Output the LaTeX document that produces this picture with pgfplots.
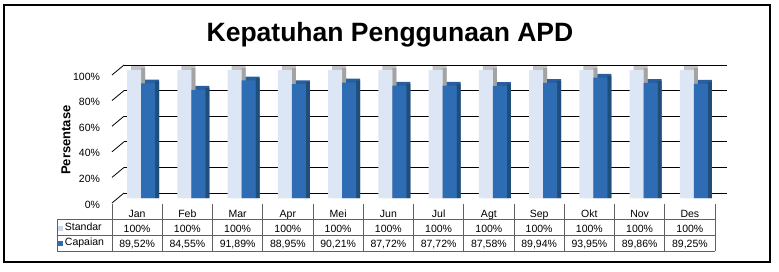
\documentclass[border=0pt]{standalone}
\usepackage{pgfplots}
\pgfplotsset{compat=1.18}
\usepackage{pgfplotstable}
\usepackage{fontspec}
\setmainfont{Liberation Sans}
\definecolor{stdfront}{HTML}{DCE6F4}
\definecolor{stdkey}{HTML}{CCD8EA}
\definecolor{stdtop}{HTML}{C4C4C4}
\definecolor{stdside}{HTML}{A3A3A3}
\definecolor{capfront}{HTML}{2E6DB4}
\definecolor{captop}{HTML}{2A5F9F}
\definecolor{capside}{HTML}{1F4E7A}
\definecolor{tableline}{HTML}{606060}

\pgfplotstableread{
x std cap
0 100 89.52
1 100 84.55
2 100 91.89
3 100 88.95
4 100 90.21
5 100 87.72
6 100 87.72
7 100 87.58
8 100 89.94
9 100 93.95
10 100 89.86
11 100 89.25
}\datatable

\begin{document}
\begin{tikzpicture}
\path (0pt,0pt) rectangle (779pt,271pt);
\draw[line width=1.2pt] (4pt,9pt) rectangle (770pt,266pt);
\begin{axis}[
  at={(112pt,73pt)}, anchor=south west,
  scale only axis, width=603pt, height=128pt,
  xmin=-0.5, xmax=11.5, ymin=0, ymax=100,
  clip=false,
  ybar, bar width=14pt,
  axis line style={draw=none},
  major tick style={draw=none},
  /pgf/number format/assume math mode=true,
  tick label style={font=\fontsize{10.5}{12}\selectfont},
  ytick={0,20,40,60,80,100},
  yticklabels={0\%,20\%,40\%,60\%,80\%,100\%},
  yticklabel style={anchor=east, xshift=-8.5pt, yshift=-6.5pt},
  ymajorgrids,
  major grid style={black, line width=0.8pt, xshift=12pt, yshift=5pt},
  xtick={0,1,2,3,4,5,6,7,8,9,10,11},
  xticklabels={
    {\strut Jan\\100\%\\89,52\%},
    {\strut Feb\\100\%\\84,55\%},
    {\strut Mar\\100\%\\91,89\%},
    {\strut Apr\\100\%\\88,95\%},
    {\strut Mei\\100\%\\90,21\%},
    {\strut Jun\\100\%\\87,72\%},
    {\strut Jul\\100\%\\87,72\%},
    {\strut Agt\\100\%\\87,58\%},
    {\strut Sep\\100\%\\89,94\%},
    {\strut Okt\\100\%\\93,95\%},
    {\strut Nov\\100\%\\89,86\%},
    {\strut Des\\100\%\\89,25\%}},
  xticklabel style={anchor=north, align=center, yshift=-1.3pt,
    font=\fontsize{10.5}{15}\selectfont},
  title={Kepatuhan Penggunaan APD},
  title style={at={(axis description cs:0.461,1.23)}, anchor=center,
    font=\bfseries\fontsize{26.5}{30}\selectfont},
  ylabel={Persentase},
  ylabel style={at={(axis description cs:-0.0763,0.453)}, anchor=center,
    font=\bfseries\fontsize{13}{15}\selectfont},
]
% Standar series (3D look: top, side, front)
\addplot[fill=stdtop, draw=none, bar shift=1pt] table[x=x, y expr=\thisrow{std}+3] {\datatable};
\addplot[fill=stdside, draw=none, bar shift=6pt, bar width=4pt] table[x=x, y expr=\thisrow{std}+1.5] {\datatable};
\addplot[fill=stdfront, draw=none, bar shift=-3pt] table[x=x, y=std] {\datatable};
% Capaian series
\addplot[fill=captop, draw=none, bar shift=15pt] table[x=x, y expr=\thisrow{cap}+3] {\datatable};
\addplot[fill=capside, draw=none, bar shift=20pt, bar width=4pt] table[x=x, y expr=\thisrow{cap}+1.5] {\datatable};
\addplot[fill=capfront, draw=none, bar shift=11pt] table[x=x, y=cap] {\datatable};
% diagonal ticks of the 3D wall
\pgfplotsinvokeforeach{0,20,40,60,80,100}{
  \draw[black, line width=0.8pt] (axis cs:-0.5,#1) ++(0pt,-5pt) -- ++(12pt,10pt);
}
\end{axis}
% data table grid
\foreach \k in {0,...,12}{
  \draw[tableline, line width=0.6pt] ({(112+50.25*\k)*1pt},67pt) -- ({(112+50.25*\k)*1pt},20pt);
}
\draw[tableline, line width=0.6pt] (57pt,52pt) -- (715pt,52pt);
\draw[tableline, line width=0.6pt] (57pt,36pt) -- (715pt,36pt);
\draw[tableline, line width=0.6pt] (57pt,20pt) -- (715pt,20pt);
\draw[tableline, line width=0.6pt] (57pt,52pt) -- (57pt,20pt);
\node[anchor=west, inner sep=0pt, font=\fontsize{10.5}{12}\selectfont] at (58pt,44pt)
  {\textcolor{stdkey}{\rule{5pt}{5pt}}\,Standar};
\node[anchor=west, inner sep=0pt, font=\fontsize{10.5}{12}\selectfont] at (58pt,28pt)
  {\textcolor{capfront}{\rule{5pt}{5pt}}\,Capaian};
\end{tikzpicture}
\end{document}
